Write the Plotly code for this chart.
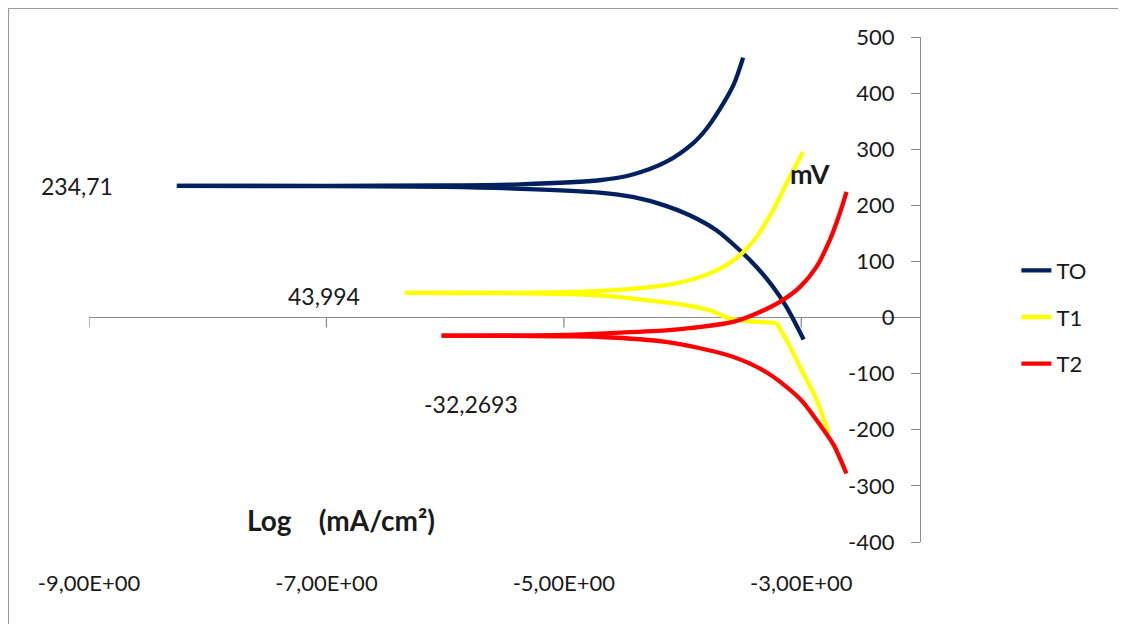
import plotly.graph_objects as go

# ---------------- data ----------------
SERIES_NAMES = ["TO", "T1", "T2"]
E_CORR = [234.71, 43.994, -32.2693]

TO_ANODIC_LOGI = [-8.26, -7.0, -6.0, -5.37, -4.70, -4.42, -4.14, -3.91, -3.80, -3.69, -3.57, -3.49]
TO_ANODIC_E = [234.71, 234.8, 235.5, 237.5, 244.7, 255.0, 277.3, 311.0, 336.0, 370.0, 415.0, 463.3]
TO_CATHODIC_LOGI = [-8.26, -7.0, -6.0, -5.37, -4.70, -4.42, -4.14, -3.94, -3.715, -3.518, -3.377, -3.237, -3.125, -2.98]
TO_CATHODIC_E = [234.71, 234.2, 232.8, 229.5, 222.7, 214.9, 199.0, 182.3, 155.6, 119.9, 90.2, 54.5, 18.9, -39.2]

T1_ANODIC_LOGI = [-6.34, -5.8, -5.29, -4.70, -4.14, -3.94, -3.715, -3.518, -3.377, -3.237, -3.125, -2.985]
T1_ANODIC_E = [43.994, 44.0, 44.2, 47.4, 58.0, 66.5, 84.0, 111.0, 143.6, 191.2, 238.8, 295.1]
T1_CATHODIC_LOGI = [-6.34, -5.8, -5.29, -4.70, -4.14, -3.94, -3.77, -3.60, -3.21]
T1_CATHODIC_E = [43.994, 43.8, 43.0, 39.7, 27.0, 21.0, 13.0, -1.8, -9.6]
T1_CATHODIC_TAIL_LOGI = [-3.21, -3.125, -3.01, -2.87, -2.77]
T1_CATHODIC_TAIL_E = [-9.6, -40.0, -88.0, -147.0, -206.7]

T2_ANODIC_LOGI = [-6.03, -5.5, -5.0, -4.70, -4.14, -3.94, -3.574, -3.377, -3.18, -3.01, -2.872, -2.76, -2.676, -2.619]
T2_ANODIC_E = [-32.2693, -32.0, -31.0, -28.5, -23.0, -19.0, -7.7, 7.2, 28.0, 54.7, 90.3, 137.9, 185.4, 223.8]
T2_CATHODIC_LOGI = [-6.03, -5.5, -5.0, -4.70, -4.14, -3.57, -3.29, -3.01, -2.85, -2.73, -2.62]
T2_CATHODIC_E = [-32.2693, -32.6, -33.5, -34.6, -43.4, -70.2, -98.0, -145.0, -188.9, -226.0, -278.0]

X_TICK_VALUES = [-9, -7, -5, -3]
X_TICK_LABELS = ["-9,00E+00", "-7,00E+00", "-5,00E+00", "-3,00E+00"]
Y_TICK_VALUES = [-400, -300, -200, -100, 0, 100, 200, 300, 400, 500]
Y_TICK_LABELS = ["-400", "-300", "-200", "-100", "0", "100", "200", "300", "400", "500"]
X_TITLE = "Log&#160;&#160;&#160;&#160;(mA/cm²)"
Y_TITLE = "mV"

COLORS = ["#002060", "#FFFF00", "#FF0000"]
FONT = "Lato, Calibri, Carlito, sans-serif"
TEXT_COLOR = "#1a1a1a"
AXIS_COLOR = "#8c8c8c"

branches = [
    [(TO_ANODIC_LOGI, TO_ANODIC_E), (TO_CATHODIC_LOGI, TO_CATHODIC_E)],
    [(T1_ANODIC_LOGI, T1_ANODIC_E), (T1_CATHODIC_LOGI, T1_CATHODIC_E),
     (T1_CATHODIC_TAIL_LOGI, T1_CATHODIC_TAIL_E)],
    [(T2_ANODIC_LOGI, T2_ANODIC_E), (T2_CATHODIC_LOGI, T2_CATHODIC_E)],
]

fig = go.Figure()
for i, name in enumerate(SERIES_NAMES):
    xs, ys = [], []
    for bx, by in branches[i]:
        if xs:
            xs.append(None)
            ys.append(None)
        xs.extend(bx)
        ys.extend(by)
    fig.add_trace(go.Scatter(
        x=xs, y=ys, name=name, mode="lines",
        line=dict(color=COLORS[i], width=4.3, shape="spline", smoothing=0.85),
        connectgaps=False, legendgroup=name,
    ))

# data labels at the corrosion potentials
label_offsets = [
    dict(xanchor="right", xshift=-62, yshift=0),
    dict(xanchor="right", xshift=-43, yshift=-3),
    dict(xanchor="center", xshift=29, yshift=-68),
]
starts = [TO_ANODIC_LOGI[0], T1_ANODIC_LOGI[0], T2_ANODIC_LOGI[0]]
for i, v in enumerate(E_CORR):
    fig.add_annotation(
        x=starts[i], y=v, xref="x", yref="y",
        text=f"{v:g}".replace(".", ","), showarrow=False,
        font=dict(family=FONT, size=23, color=TEXT_COLOR),
        yanchor="middle", **label_offsets[i],
    )

# axis titles (placed like in the reference)
fig.add_annotation(x=-2.93, y=257, xref="x", yref="y", text=f"<b>{Y_TITLE}</b>",
                   xanchor="center", yanchor="middle",
                   showarrow=False, font=dict(family=FONT, size=27, color=TEXT_COLOR))
fig.add_annotation(x=0.303, y=0.044, xref="paper", yref="paper", text=f"<b>{X_TITLE}</b>",
                   xanchor="center", yanchor="middle",
                   showarrow=False, font=dict(family=FONT, size=28, color=TEXT_COLOR))

# x tick marks on the horizontal axis crossing at 0
for tv in X_TICK_VALUES:
    fig.add_shape(type="line", xref="x", yref="y", x0=tv, x1=tv,
                  ysizemode="pixel", yanchor=0, y0=0, y1=-10,
                  line=dict(color=AXIS_COLOR, width=1.3), layer="below")

# chart frame (top and left edges visible)
fig.add_shape(type="line", xref="paper", yref="paper", x0=-0.0975, x1=1.26, y0=1.0574, y1=1.0574,
              line=dict(color="#9a9a9a", width=2.2))
fig.add_shape(type="line", xref="paper", yref="paper", x0=-0.0975, x1=-0.0975, y0=-0.2, y1=1.0574,
              line=dict(color="#9a9a9a", width=2.2))

fig.update_layout(
    width=1118, height=616,
    margin=dict(l=81, r=206, t=29, b=82),
    paper_bgcolor="white", plot_bgcolor="white",
    font=dict(family=FONT, size=22, color=TEXT_COLOR),
    showlegend=True,
    legend=dict(x=1.116, y=0.579, xanchor="left", yanchor="top",
                font=dict(family=FONT, size=22, color=TEXT_COLOR),
                traceorder="grouped", tracegroupgap=15, bgcolor="rgba(0,0,0,0)"),
    xaxis=dict(range=[-9, -2], tickvals=X_TICK_VALUES, ticktext=X_TICK_LABELS,
               showgrid=False, zeroline=False, showline=False,
               ticks="outside", ticklen=22, tickcolor="rgba(0,0,0,0)",
               tickfont=dict(family=FONT, size=22, color=TEXT_COLOR)),
    yaxis=dict(range=[-400, 500], tickvals=Y_TICK_VALUES, ticktext=Y_TICK_LABELS,
               anchor="free", position=1.0, side="left", showgrid=False,
               zeroline=True, zerolinecolor=AXIS_COLOR, zerolinewidth=1.3,
               showline=True, linecolor=AXIS_COLOR, linewidth=1.3,
               ticks="outside", ticklen=9, tickcolor=AXIS_COLOR, tickwidth=1.3,
               ticklabelstandoff=12,
               tickfont=dict(family=FONT, size=22, color=TEXT_COLOR)),
)

fig.write_html("out.html")
